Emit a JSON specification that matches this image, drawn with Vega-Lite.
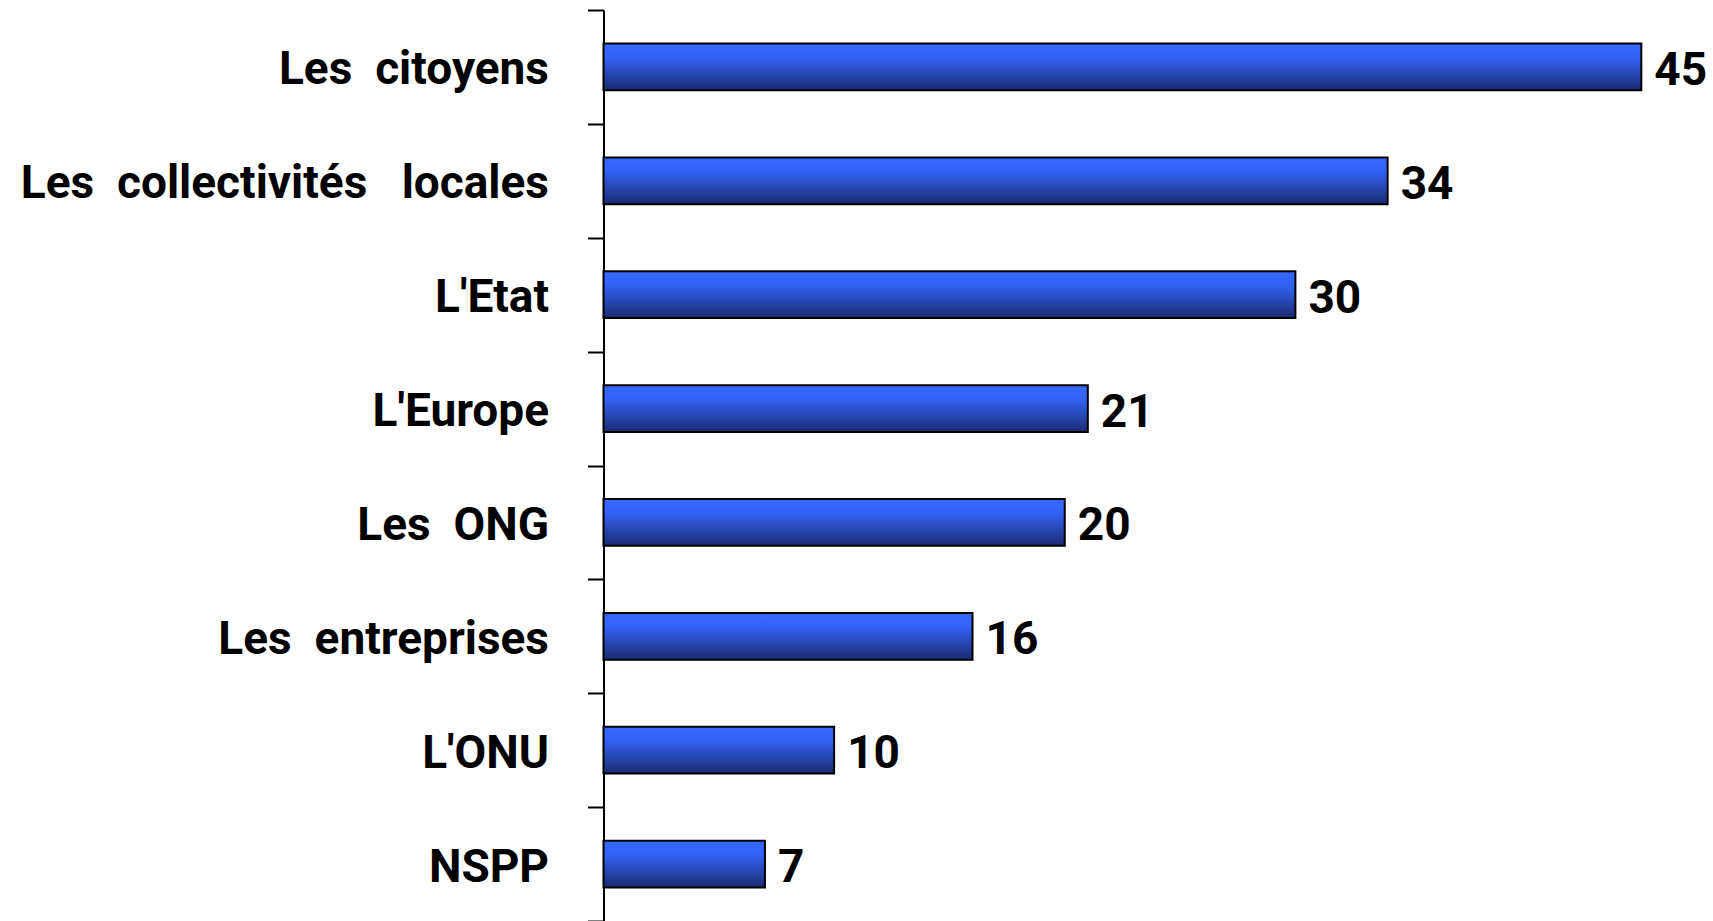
{
  "$schema": "https://vega.github.io/schema/vega-lite/v6.json",
  "autosize": {"type": "none"},
  "width": 1107,
  "height": 911,
  "padding": {"left": 603.5, "top": 10, "right": 0, "bottom": 0},
  "background": "white",
  "config": {"view": {"stroke": null}, "font": "Roboto"},
  "data": {"values": [
    {"cat": "Les\u00a0 citoyens", "v": 45},
    {"cat": "Les\u00a0 collectivités\u00a0\u00a0 locales", "v": 34},
    {"cat": "L'Etat", "v": 30},
    {"cat": "L'Europe", "v": 21},
    {"cat": "Les\u00a0 ONG", "v": 20},
    {"cat": "Les\u00a0 entreprises", "v": 16},
    {"cat": "L'ONU", "v": 10},
    {"cat": "NSPP", "v": 7}
  ]},
  "encoding": {
    "y": {"field": "cat", "type": "nominal", "sort": null,
      "scale": {"paddingInner": 0, "paddingOuter": 0},
      "axis": {"title": null, "tickBand": "extent", "domainColor": "black", "domainWidth": 2,
        "tickColor": "black", "tickWidth": 2, "tickSize": 16, "labelPadding": 39,
        "labelFont": "Roboto", "labelFontWeight": "bold", "labelFontSize": 46, "labelOffset": 3,
        "labelColor": "black", "labelLimit": 0}},
    "x": {"field": "v", "type": "quantitative", "scale": {"domain": [0, 48]}, "axis": null}
  },
  "layer": [
    {"mark": {"type": "bar", "height": {"band": 0.41}, "stroke": "black", "strokeWidth": 2,
      "color": {"gradient": "linear", "x1": 0, "y1": 0, "x2": 0, "y2": 1,
        "stops": [{"offset": 0, "color": "#3668ff"}, {"offset": 0.3, "color": "#3262f4"}, {"offset": 1, "color": "#1b2b70"}]}}},
    {"mark": {"type": "text", "align": "left", "baseline": "middle", "dx": 13, "dy": 4,
      "font": "Roboto", "fontWeight": "bold", "fontSize": 46, "color": "black"},
      "encoding": {"text": {"field": "v", "type": "quantitative"}}}
  ]
}
